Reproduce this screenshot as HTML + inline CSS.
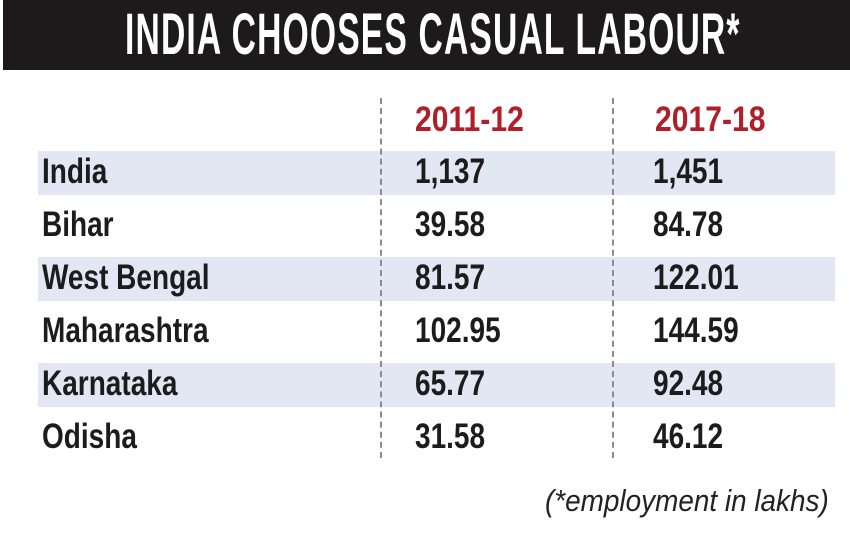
<!DOCTYPE html>
<html><head><style>
body{margin:0;width:850px;height:550px;background:#fff;position:relative;overflow:hidden;font-family:"Liberation Sans",sans-serif;}
.hdr{position:absolute;left:3px;top:0;width:847px;height:70px;background:#1c1a1a;}
.t{position:absolute;white-space:nowrap;transform-origin:0 50%;}
.title{left:125px;top:4px;font-size:58px;line-height:62px;color:#fff;font-weight:bold;transform:scaleX(0.58);letter-spacing:2px;}
.band{position:absolute;left:38px;width:797px;height:44px;background:#e3e7f4;}
.row{font-size:35px;line-height:40px;color:#1c1c1c;font-weight:bold;transform:scaleX(0.8);}
.red{color:#b0202a;transform:scaleX(0.86);}
.dash{position:absolute;top:98px;height:360px;border-left:2px dashed #8a8a9a;}
.foot{font-size:31px;line-height:36px;color:#222;font-style:italic;transform:scaleX(0.9);}
</style></head><body>
<div class="hdr"></div>
<div class="t title">INDIA CHOOSES CASUAL LABOUR*</div>
<div class="band" style="top:151px"></div>
<div class="band" style="top:257px"></div>
<div class="band" style="top:363px"></div>
<div class="dash" style="left:380px"></div>
<div class="dash" style="left:612px"></div>
<div class="t row red" style="left:415px;top:100px">2011-12</div>
<div class="t row red" style="left:655px;top:100px">2017-18</div>

<div class="t row" style="left:42px;top:152px">India</div>
<div class="t row" style="left:415px;top:152px">1,137</div>
<div class="t row" style="left:653px;top:152px">1,451</div>

<div class="t row" style="left:42px;top:205px">Bihar</div>
<div class="t row" style="left:415px;top:205px">39.58</div>
<div class="t row" style="left:653px;top:205px">84.78</div>

<div class="t row" style="left:42px;top:258px">West Bengal</div>
<div class="t row" style="left:415px;top:258px">81.57</div>
<div class="t row" style="left:653px;top:258px">122.01</div>

<div class="t row" style="left:42px;top:311px">Maharashtra</div>
<div class="t row" style="left:415px;top:311px">102.95</div>
<div class="t row" style="left:653px;top:311px">144.59</div>

<div class="t row" style="left:42px;top:364px">Karnataka</div>
<div class="t row" style="left:415px;top:364px">65.77</div>
<div class="t row" style="left:653px;top:364px">92.48</div>

<div class="t row" style="left:42px;top:417px">Odisha</div>
<div class="t row" style="left:415px;top:417px">31.58</div>
<div class="t row" style="left:653px;top:417px">46.12</div>

<div class="t foot" style="left:545px;top:483px">(*employment in lakhs)</div>
</body></html>
